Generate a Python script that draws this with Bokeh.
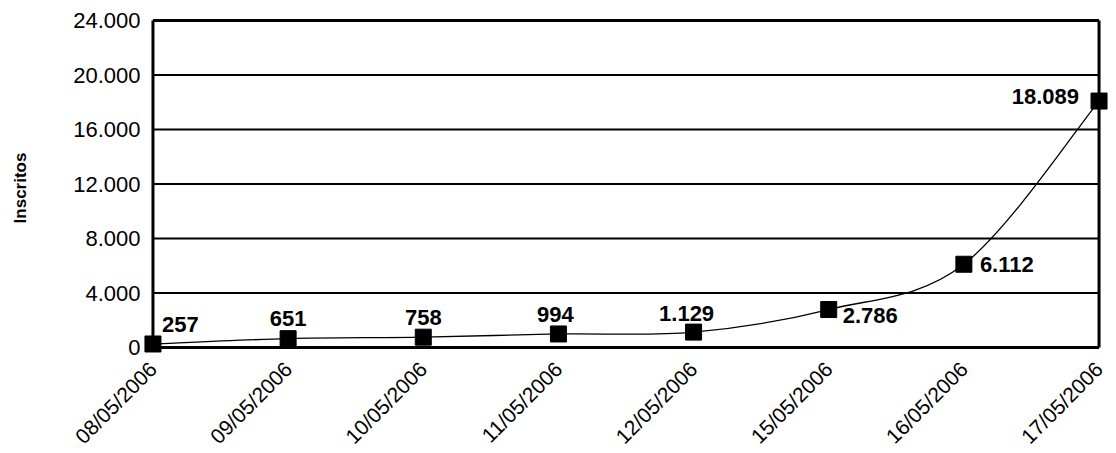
import math
from bokeh.plotting import figure
from bokeh.models import Range1d, FixedTicker, ColumnDataSource
from bokeh.core.properties import value
from bokeh.embed import file_html
from bokeh.resources import INLINE

dates = ["08/05/2006", "09/05/2006", "10/05/2006", "11/05/2006",
         "12/05/2006", "15/05/2006", "16/05/2006", "17/05/2006"]
inscritos = [257, 651, 758, 994, 1129, 2786, 6112, 18089]
y_ticks = [0, 4000, 8000, 12000, 16000, 20000, 24000]
y_tick_labels = ["0", "4.000", "8.000", "12.000", "16.000", "20.000", "24.000"]

def fmt(v):
    return f"{v:,}".replace(",", ".")

xs = list(range(len(dates)))
X_PAD = 0.07
y_lo, y_hi = -734, 24150

p = figure(frame_width=965, frame_height=339, output_backend="svg", toolbar_location=None,
           x_range=Range1d(-X_PAD, len(dates) - 1 + X_PAD), y_range=Range1d(y_lo, y_hi),
           min_border_left=143, min_border_right=8, min_border_top=18,
           min_border_bottom=10)
p.background_fill_color = "white"
p.border_fill_color = "white"
p.outline_line_color = None
p.xgrid.grid_line_color = None
p.ygrid.grid_line_color = None

# axes (lines drawn separately)
p.yaxis.ticker = FixedTicker(ticks=y_ticks)
p.yaxis.major_label_overrides = {t: l for t, l in zip(y_ticks, y_tick_labels)}
p.xaxis.ticker = FixedTicker(ticks=xs)
p.xaxis.major_label_overrides = {i: d for i, d in enumerate(dates)}
p.xaxis.major_label_orientation = math.pi / 4
for ax in (p.xaxis, p.yaxis):
    ax.axis_line_color = None
    ax.major_tick_line_color = None
    ax.minor_tick_line_color = None
    ax.major_label_text_font = "Liberation Sans"
    ax.major_label_text_font_size = "22px"
    ax.major_label_text_color = "black"
p.xaxis.major_label_text_font_size = "21px"
p.yaxis.major_label_standoff = -3
p.xaxis.major_label_standoff = 2

# axis title
p.yaxis.axis_label = "Inscritos"
p.yaxis.axis_label_standoff = 40
p.yaxis.axis_label_text_font = "Liberation Sans"
p.yaxis.axis_label_text_font_style = "bold"
p.yaxis.axis_label_text_font_size = "17px"
p.yaxis.axis_label_text_color = "black"

# horizontal grid lines and frame
first, last = xs[0], xs[-1]
gw = [3 if t in (y_ticks[0], y_ticks[-1]) else 2 for t in y_ticks]
p.segment(x0=[first] * len(y_ticks), y0=y_ticks, x1=[last] * len(y_ticks), y1=y_ticks,
          line_color="black", line_width=gw)
p.segment(x0=[first, last], y0=[y_ticks[0]] * 2, x1=[first, last], y1=[y_ticks[-1]] * 2,
          line_color="black", line_width=3)

# smooth line through points (Catmull-Rom style bezier segments)
n = len(xs)
x0s, y0s, x1s, y1s, cx0, cy0, cx1, cy1 = [], [], [], [], [], [], [], []
for i in range(n - 1):
    pa = (xs[max(i - 1, 0)], inscritos[max(i - 1, 0)])
    pb = (xs[i], inscritos[i])
    pc = (xs[i + 1], inscritos[i + 1])
    pd = (xs[min(i + 2, n - 1)], inscritos[min(i + 2, n - 1)])
    x0s.append(pb[0]); y0s.append(pb[1]); x1s.append(pc[0]); y1s.append(pc[1])
    cx0.append(pb[0] + (pc[0] - pa[0]) / 6); cy0.append(pb[1] + (pc[1] - pa[1]) / 6)
    cx1.append(pc[0] - (pd[0] - pb[0]) / 6); cy1.append(pc[1] - (pd[1] - pb[1]) / 6)
p.bezier(x0=x0s, y0=y0s, x1=x1s, y1=y1s, cx0=cx0, cy0=cy0, cx1=cx1, cy1=cy1,
         line_color="black", line_width=1.3)

p.scatter(xs, inscritos, marker="square", size=16, fill_color="black",
          line_color="black")

# data labels
label_x_off = [9, 0, 0, -3, -7, 14, 16, -20]
label_y_off = [-19, -20, -20, -19, -19, 6, 0, -5]
label_align = ["left", "center", "center", "center", "center", "left", "left", "right"]
src = ColumnDataSource(dict(x=xs, y=inscritos, t=[fmt(v) for v in inscritos],
                            xo=label_x_off, yo=label_y_off, al=label_align))
p.text(x="x", y="y", text="t", x_offset="xo", y_offset="yo", text_align="al",
       text_baseline="middle", source=src, text_font=value("Liberation Sans"),
       text_font_style="bold", text_font_size="22px", text_color="black")

open("out.html", "w").write(file_html(p, INLINE))
